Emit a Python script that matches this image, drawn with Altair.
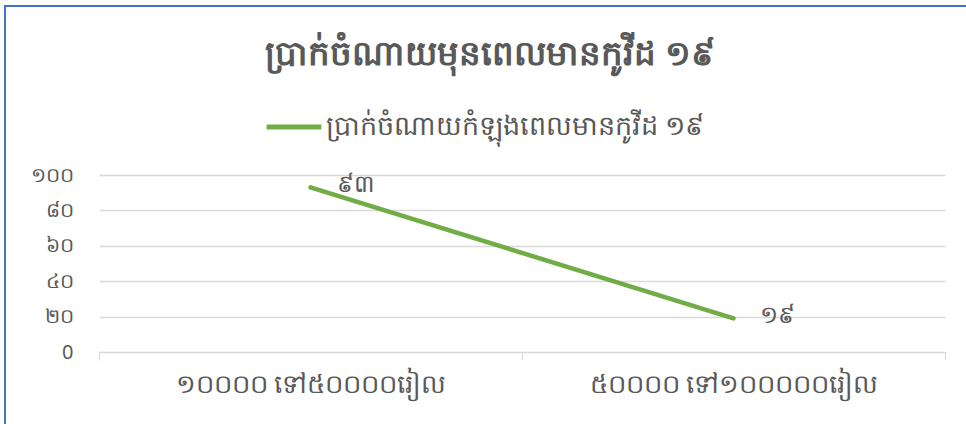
import altair as alt
import pandas as pd

categories = ["១០០០០ ទៅ៥០០០០រៀល", "៥០០០០ ទៅ១០០០០០រៀល"]
values = [93, 19]
value_labels = ["៩៣", "១៩"]
series_name = "ប្រាក់ចំណាយកំឡុងពេលមានកូវីដ ១៩"
title_text = "ប្រាក់ចំណាយមុនពេលមានកូវីដ ១៩"
y_ticks = [0, 20, 40, 60, 80, 100]
y_tick_labels = ["0", "២០", "៤០", "៦០", "៨០", "១០០"]

df = pd.DataFrame({
    "cat": categories,
    "val": values,
    "lab": value_labels,
    "series": [series_name] * len(categories),
})

label_expr = " : ".join(
    [f"datum.value == {t} ? '{l}'" for t, l in zip(y_ticks, y_tick_labels)]
) + " : ''"

FONT = "Noto Sans"
GRAY = "#595959"
GREEN = "#70AD47"

x_enc = alt.X(
    "cat:N",
    sort=categories,
    scale=alt.Scale(type="band", paddingInner=0, paddingOuter=0),
    axis=alt.Axis(
        title=None, labelAngle=0, labelFontSize=26, labelColor=GRAY, labelFont=FONT,
        tickBand="extent", tickColor="#d9d9d9", tickSize=8, domainColor="#d9d9d9",
        labelPadding=11, grid=False, labelLimit=1000, labelOverlap=False,
    ),
)
y_enc = alt.Y(
    "val:Q",
    scale=alt.Scale(domain=[0, 100], nice=False),
    axis=alt.Axis(
        title=None, values=y_ticks, labelExpr=label_expr, labelFontSize=20,
        labelColor=GRAY, labelFont=FONT, domain=False, ticks=False,
        gridColor="#d9d9d9", gridWidth=1.3, labelPadding=26,
        labelOverlap=False, labelLimit=1000, tickCount=6,
    ),
)

line = alt.Chart(df).mark_line(strokeWidth=4.5, strokeCap="round").encode(
    x=x_enc,
    y=y_enc,
    color=alt.Color(
        "series:N",
        scale=alt.Scale(range=[GREEN]),
        legend=alt.Legend(
            title=None, orient="none", legendX=165, legendY=-78,
            labelFontSize=27, labelColor=GRAY, labelFont=FONT,
            symbolType="stroke", symbolStrokeWidth=5, symbolSize=3000,
            labelOffset=2, labelLimit=1000,
        ),
    ),
)

text = alt.Chart(df).mark_text(
    align="left", baseline="middle", dx=26, dy=-2, fontSize=24, color=GRAY, font=FONT
).encode(x=x_enc, y=y_enc, text="lab:N")

frame_top = alt.Chart(df).mark_rule(color="#4472C4", strokeWidth=2).encode(
    x=alt.value(-95), x2=alt.value(900), y=alt.value(-169)
)
frame_left = alt.Chart(df).mark_rule(color="#4472C4", strokeWidth=2).encode(
    x=alt.value(-94), y=alt.value(-170), y2=alt.value(260)
)

chart = alt.layer(line, text, frame_top, frame_left).properties(
    width=846,
    height=177,
    padding={"left": 99, "top": 175, "right": 21, "bottom": 72},
    autosize=alt.AutoSizeParams(type="none"),
    background="white",
    title=alt.TitleParams(
        title_text, fontSize=34, fontWeight="bold", color=GRAY, font=FONT,
        anchor="middle", frame="group", dx=-32, offset=-68,
    ),
).configure_view(stroke=None)

chart.save("out.html", embed_options={"renderer": "svg", "actions": False})
